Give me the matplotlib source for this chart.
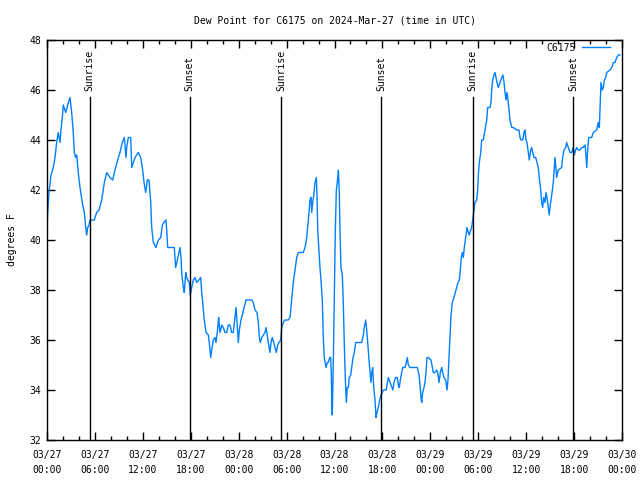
import pandas as pd
import matplotlib
matplotlib.use("Agg")
import matplotlib.pyplot as plt
import matplotlib.dates as mdates
from matplotlib.ticker import MultipleLocator

# hours after 2024-03-27 00:00 UTC and dew point (F)
hours = [
    0.00, 0.09, 0.25, 0.50, 0.79, 1.00, 1.21, 1.41, 1.63, 1.75, 1.92, 2.04, 2.34, 2.59, 2.88,
    3.09, 3.29, 3.42, 3.59, 3.72, 3.92, 4.13, 4.42, 4.67, 4.85, 4.97, 5.10, 5.26, 5.38, 5.92,
    6.22, 6.51, 6.85, 7.18, 7.48, 7.89, 8.23, 8.51, 8.85, 9.14, 9.43, 9.68, 9.89, 9.98, 10.18,
    10.48, 10.61, 10.81, 11.02, 11.43, 11.73, 11.98, 12.15, 12.36, 12.56, 12.77, 12.99, 13.11,
    13.31, 13.65, 13.94, 14.24, 14.44, 14.65, 14.90, 14.99, 15.11, 15.61, 15.94, 16.11, 16.32,
    16.53, 16.65, 16.78, 16.86, 17.07, 17.19, 17.37, 17.49, 17.62, 17.82, 17.94, 18.12, 18.32,
    18.53, 18.75, 19.03, 19.25, 19.37, 19.50, 19.66, 19.91, 20.20, 20.32, 20.50, 20.62, 20.82,
    21.04, 21.16, 21.32, 21.50, 21.54, 21.66, 21.88, 22.08, 22.29, 22.50, 22.70, 22.91, 23.13,
    23.33, 23.54, 23.67, 23.83, 23.96, 24.08, 24.29, 24.46, 24.67, 24.92, 25.21, 25.63, 25.83,
    26.05, 26.30, 26.46, 26.59, 26.71, 26.89, 27.09, 27.30, 27.42, 27.58, 27.71, 27.92, 28.05,
    28.21, 28.39, 28.55, 28.71, 28.89, 29.05, 29.26, 29.39, 29.59, 29.80, 30.21, 30.43, 30.64,
    30.84, 31.05, 31.27, 31.47, 32.09, 32.31, 32.52, 32.64, 32.81, 32.93, 33.06, 33.15, 33.27,
    33.40, 33.56, 33.72, 33.81, 33.90, 34.06, 34.18, 34.31, 34.47, 34.60, 34.72, 34.94, 35.10,
    35.22, 35.40, 35.52, 35.60, 35.65, 35.72, 35.85, 35.97, 36.10, 36.23, 36.35, 36.48, 36.60,
    36.69, 36.81, 36.98, 37.10, 37.23, 37.35, 37.48, 37.60, 37.73, 37.85, 38.03, 38.15, 38.32,
    38.48, 38.66, 39.41, 39.61, 39.73, 39.91, 40.03, 40.16, 40.32, 40.45, 40.57, 40.66, 40.78,
    40.91, 41.07, 41.20, 41.32, 41.48, 41.66, 41.83, 41.99, 42.12, 42.46, 42.62, 42.74, 42.96,
    43.17, 43.30, 43.45, 43.66, 43.86, 43.99, 44.11, 44.29, 44.41, 44.54, 44.83, 44.99, 45.12,
    45.24, 45.45, 46.37, 46.58, 46.71, 46.83, 46.92, 47.04, 47.21, 47.33, 47.46, 47.58, 47.75,
    48.08, 48.25, 48.37, 48.58, 48.80, 48.92, 49.09, 49.25, 49.42, 49.55, 49.71, 49.92, 50.09,
    50.21, 50.34, 50.46, 50.59, 50.75, 50.96, 51.13, 51.30, 51.46, 51.63, 51.75, 51.88, 52.00,
    52.13, 52.25, 52.43, 52.59, 52.75, 52.88, 53.05, 53.18, 53.30, 53.47, 53.59, 53.81, 53.93,
    54.01, 54.13, 54.31, 54.43, 54.63, 54.85, 55.06, 55.18, 55.47, 55.60, 55.68, 55.81, 55.97,
    56.10, 56.22, 56.35, 56.51, 56.72, 56.94, 57.10, 57.23, 57.35, 57.48, 57.60, 57.73, 57.85,
    57.98, 58.19, 58.39, 58.81, 59.10, 59.23, 59.35, 59.57, 59.73, 59.85, 59.98, 60.10, 60.27,
    60.39, 60.57, 60.69, 60.82, 60.98, 61.19, 61.36, 61.52, 61.64, 61.82, 61.94, 62.07, 62.19,
    62.36, 62.48, 62.61, 62.77, 62.89, 63.02, 63.20, 63.40, 63.61, 63.82, 64.02, 64.44, 64.57,
    64.74, 64.95, 65.07, 65.28, 65.49, 65.70, 65.90, 66.03, 66.20, 66.33, 66.53, 66.74, 66.95,
    67.15, 67.37, 67.49, 67.58, 67.70, 67.83, 68.20, 68.41, 68.83, 69.03, 69.16, 69.25, 69.37,
    69.53, 69.66, 69.79, 69.96, 70.09, 70.50, 70.72, 70.92, 71.12, 71.34, 71.54, 71.75,
]
dewpoint = [
    40.4, 41.1, 41.9, 42.6, 42.9, 43.3, 43.9, 44.3, 43.9, 44.4, 44.9, 45.4, 45.1, 45.4, 45.7,
    45.1, 44.3, 43.5, 43.3, 43.4, 42.7, 42.1, 41.5, 41.1, 40.5, 40.2, 40.5, 40.6, 40.8, 40.8,
    41.1, 41.2, 41.6, 42.3, 42.7, 42.5, 42.4, 42.8, 43.2, 43.5, 43.9, 44.1, 43.3, 43.7, 44.1,
    44.1, 42.9, 43.1, 43.3, 43.5, 43.3, 42.8, 42.3, 41.9, 42.4, 42.4, 41.5, 40.5,
    39.9, 39.7, 40.0, 40.1, 40.6, 40.7, 40.8, 40.4, 39.7, 39.7, 39.7, 38.9, 39.2,
    39.5, 39.7, 39.3, 38.7, 38.1, 37.9, 38.7, 38.5, 38.4, 38.3, 37.8, 38.1, 38.4,
    38.5, 38.3, 38.4, 38.5, 37.9, 37.5, 36.9, 36.3, 36.2, 35.9, 35.3, 35.6, 36.0,
    36.1, 35.9, 36.3, 36.9, 36.7, 36.3, 36.6, 36.5, 36.3, 36.3, 36.6, 36.6, 36.3,
    36.3, 36.9, 37.3, 36.5, 35.9, 36.4, 36.8, 37.0, 37.3, 37.6, 37.6, 37.6, 37.5,
    37.2, 37.1, 36.7, 36.1, 35.9, 36.1, 36.2, 36.3, 36.5, 36.2, 35.9, 35.5, 35.9,
    36.1, 35.9, 35.7, 35.5, 35.8, 35.9, 36.0, 36.5, 36.7, 36.8, 36.8, 36.9, 37.6,
    38.3, 38.8, 39.3, 39.5, 39.5, 39.7, 40.1, 40.5, 41.1, 41.6, 41.7, 41.1, 41.5,
    41.8, 42.3, 42.5, 41.8, 40.4, 39.5, 38.9, 38.4, 37.6, 36.1, 35.3, 34.9, 35.1,
    35.1, 35.3, 35.3, 34.7, 33.7, 33.0, 35.1, 37.5, 40.3, 42.0, 42.3, 42.8, 41.9,
    40.3, 38.9, 38.6, 37.5, 35.8, 34.5, 33.5, 34.1, 34.1, 34.5, 34.6, 34.9, 35.3,
    35.5, 35.9, 35.9, 36.2, 36.5, 36.8, 36.4, 35.9, 35.2, 34.7, 34.3, 34.7, 34.9,
    34.1, 33.6, 32.9, 33.1, 33.3, 33.6, 33.8, 33.9, 34.0, 34.0, 34.3, 34.5, 34.3,
    34.1, 34.0, 34.3, 34.5, 34.5, 34.2, 34.1, 34.5, 34.7, 34.9, 34.9, 35.1, 35.3,
    35.0, 34.9, 34.9, 34.6, 34.2, 33.7, 33.5, 33.9, 34.1, 34.3, 34.7, 35.3, 35.3,
    35.2, 34.9, 34.7, 34.7, 34.8, 34.7, 34.3, 34.7, 34.9, 34.7, 34.5, 34.4, 34.0,
    34.4, 35.3, 36.2, 37.0, 37.5, 37.7, 37.9, 38.1, 38.3, 38.4, 38.8, 39.3, 39.5,
    39.3, 39.7, 40.1, 40.5, 40.3, 40.2, 40.4, 40.5, 40.8, 41.2, 41.5, 41.6, 42.0,
    42.6, 43.1, 43.5, 44.0, 44.0, 44.4, 44.8, 45.3, 45.3, 45.5, 46.0, 46.4, 46.6,
    46.7, 46.5, 46.3, 46.1, 46.3, 46.5, 46.6, 46.3, 45.9, 45.6, 45.9, 45.6, 45.2,
    44.8, 44.5, 44.5, 44.4, 44.4, 44.1, 44.0, 44.0, 44.3, 44.4, 44.0, 43.9, 43.5,
    43.2, 43.6, 43.7, 43.5, 43.3, 43.3, 43.1, 42.9, 42.5, 42.0, 41.5, 41.3, 41.7,
    41.5, 41.9, 41.7, 41.3, 41.0, 41.4, 41.8, 42.3, 43.3, 42.5, 42.8, 42.9, 43.3,
    43.6, 43.7, 43.9, 43.7, 43.5, 43.5, 43.7, 43.4, 43.6, 43.7, 43.6, 43.6, 43.7,
    43.7, 43.8, 43.4, 42.9, 43.6, 44.1, 44.1, 44.3, 44.4, 44.7, 44.5, 45.3, 46.3,
    46.0, 46.1, 46.4, 46.5, 46.7, 46.8, 46.9, 47.1, 47.1, 47.3, 47.4, 47.4,
]

sunrise_hours = [5.33, 29.32, 53.28]
sunset_hours = [17.85, 41.85, 65.87]
event_top = 45.7

start = pd.Timestamp("2024-03-27 00:00")
times = start + pd.to_timedelta(hours, unit="h")

plt.rcParams['font.family'] = ['DejaVu Sans Mono']
plt.rcParams['font.size'] = 7

fig = plt.figure(figsize=(6.4, 4.8), dpi=100)
ax = fig.add_axes([47 / 640, 40 / 480, 575 / 640, 400 / 480])

ax.plot(times, dewpoint, color='#0080ff', linewidth=1.0, label='C6175')

for h in sunrise_hours:
    t = start + pd.Timedelta(hours=h)
    ax.plot([t, t], [32, event_top], color='black', linewidth=1.0)
    ax.text(t, event_top + 0.25, 'Sunrise', rotation=90, ha='center', va='bottom', fontsize=7)
for h in sunset_hours:
    t = start + pd.Timedelta(hours=h)
    ax.plot([t, t], [32, event_top], color='black', linewidth=1.0)
    ax.text(t, event_top + 0.25, 'Sunset', rotation=90, ha='center', va='bottom', fontsize=7)

ax.set_xlim(start, start + pd.Timedelta(hours=72))
ax.set_ylim(32, 48)
ax.xaxis.set_major_locator(mdates.HourLocator(byhour=[0, 6, 12, 18]))
ax.xaxis.set_minor_locator(mdates.HourLocator(interval=2))
ax.xaxis.set_major_formatter(mdates.DateFormatter('%m/%d\n%H:%M'))
ax.yaxis.set_major_locator(MultipleLocator(2))

ax.tick_params(which='major', direction='in', length=6, width=1, top=True, right=True, pad=4)
ax.tick_params(axis='x', which='major', pad=7)
ax.tick_params(which='minor', direction='in', length=3, width=1, top=True, right=True)
for lbl in ax.get_xticklabels():
    lbl.set_linespacing(1.6)
for s in ax.spines.values():
    s.set_linewidth(1.0)

ax.set_ylabel('degrees F', labelpad=9)
ax.set_title('Dew Point for C6175 on 2024-Mar-27 (time in UTC)', fontsize=7, pad=12)

# legend sits just under the top edge, line ends a bit left of the right edge
leg = ax.legend(loc='upper right', bbox_to_anchor=(0.983, 0.998), frameon=False,
                handlelength=2.9, handletextpad=0.7, markerfirst=False,
                borderaxespad=0.0, borderpad=0.2, fontsize=7)

fig.savefig('out.png', dpi=100)
